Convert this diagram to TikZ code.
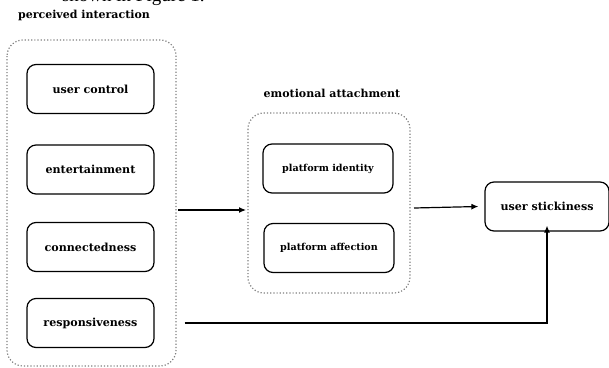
\documentclass[tikz,border=0pt]{standalone}
\usepackage{fontspec}
\setmainfont{Liberation Serif}
\newfontfamily\labelfont{DejaVu Serif}
\usetikzlibrary{positioning,fit,arrows.meta}
\begin{document}
\begin{tikzpicture}[x=1pt, y=-1pt, >=Latex, thick,
                    item/.style={draw, rounded corners=9pt, line width=1.2pt, minimum width=127pt,
                                 minimum height=49pt, font=\labelfont\bfseries\fontsize{11.1}{13}\selectfont},
                    subitem/.style={item, minimum width=130pt, font=\labelfont\bfseries\fontsize{9.6}{11}\selectfont},
                    group/.style={draw=gray, dotted, line width=1.2pt, rounded corners=16pt},
                    title/.style={font=\labelfont\bfseries\fontsize{11}{13}\selectfont},
                    link/.style={-{Latex[length=7pt,width=6pt]}, line width=1.2pt}]
  \useasboundingbox (0,0) rectangle (609,367);
  \node[anchor=base east, inner sep=0pt, font=\fontsize{19}{22}\selectfont] (caption) at (205,1.5) {shown in Figure 1.};

  % perceived interaction
  \node[item] (control) at (90.5,89) {user control};
  \node[item] (entertain) at (90.5,169.5) {entertainment};
  \node[item] (connect) at (90.5,247) {connectedness};
  \node[item] (respond) at (90.5,323) {responsiveness};
  \draw[group] (7,40) rectangle (176,366);
  \coordinate (inter east) at (178,210);
  \node[title] (inter title) at (84,15) {perceived interaction};

  % emotional attachment
  \node[subitem] (identity) at (328,168.5) {platform identity};
  \node[subitem] (affection) at (329,248) {platform affection};
  \draw[group] (248,113) rectangle (410,293);
  \coordinate (emo west) at (246,210);
  \coordinate (emo east) at (414,208);
  \node[title] (emo title) at (332,93) {emotional attachment};

  % outcome
  \node[item, minimum width=124pt] (stick) at (547,206.5) {user stickiness};

  \draw[link] (inter east) -- (emo west);
  \draw[link] (emo east) -- ([xshift=-6pt]stick.west);
  \draw[link] (respond.east) ++(30,0) -| ([yshift=6pt]stick.south);
\end{tikzpicture}
\end{document}
